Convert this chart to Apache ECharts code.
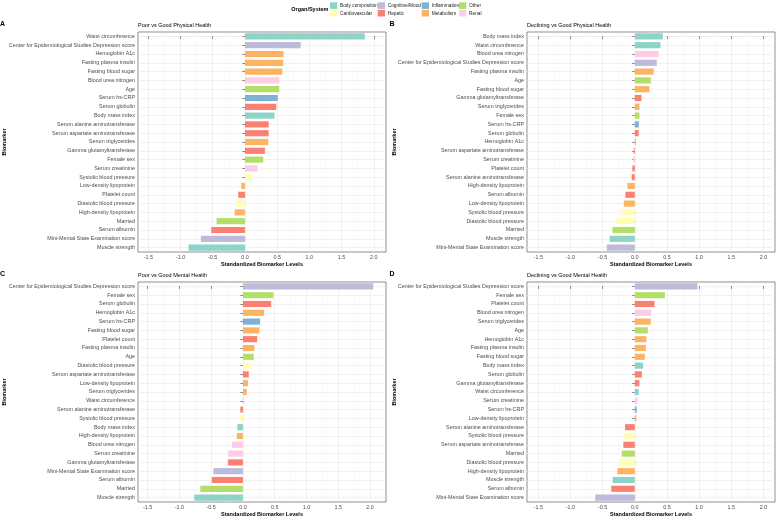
<!DOCTYPE html>
<html><head><meta charset="utf-8">
<script src="https://cdn.jsdelivr.net/npm/echarts@6/dist/echarts.min.js"></script>
<style>html,body{margin:0;padding:0;background:#fff}#c{width:778px;height:520px}</style>
</head><body><div id="c"></div>
<script>
// ---------- data ----------
const systems = ['Body composition','Cardiovascular','Cognitive/Mood','Hepatic','Inflammation','Metabolism','Other','Renal'];
const systemColors = ['#8DD3C7','#FFFFB3','#BEBADA','#FB8072','#80B1D3','#FDB462','#B3DE69','#FCCDE5'];
const biomarkerSystem = {
  'Waist circumference':'Body composition','Body mass index':'Body composition','Muscle strength':'Body composition',
  'Systolic blood pressure':'Cardiovascular','Diastolic blood pressure':'Cardiovascular',
  'Center for Epidemiological Studies Depression score':'Cognitive/Mood','Mini-Mental State Examination score':'Cognitive/Mood',
  'Serum globulin':'Hepatic','Serum alanine aminotransferase':'Hepatic','Serum aspartate aminotransferase':'Hepatic',
  'Gamma glutamyltransferase':'Hepatic','Serum albumin':'Hepatic','Platelet count':'Hepatic',
  'Serum hs-CRP':'Inflammation',
  'Hemoglobin A1c':'Metabolism','Fasting plasma insulin':'Metabolism','Fasting blood sugar':'Metabolism',
  'Serum triglycerides':'Metabolism','Low-density lipoprotein':'Metabolism','High-density lipoprotein':'Metabolism',
  'Age':'Other','Female sex':'Other','Married':'Other',
  'Blood urea nitrogen':'Renal','Serum creatinine':'Renal'
};
const xTicks = [-1.5,-1.0,-0.5,0.0,0.5,1.0,1.5,2.0];
const xMinorTicks = [-1.25,-0.75,-0.25,0.25,0.75,1.25,1.75];

const panelTitles = ['Poor vs Good Physical Health','Declining vs Good Physical Health','Poor vs Good Mental Health','Declining vs Good Mental Health'];
const panelLetters = ['A','B','C','D'];

const namesA = ['Waist circumference','Center for Epidemiological Studies Depression score','Hemoglobin A1c','Fasting plasma insulin','Fasting blood sugar','Blood urea nitrogen','Age','Serum hs-CRP','Serum globulin','Body mass index','Serum alanine aminotransferase','Serum aspartate aminotransferase','Serum triglycerides','Gamma glutamyltransferase','Female sex','Serum creatinine','Systolic blood pressure','Low-density lipoprotein','Platelet count','Diastolic blood pressure','High-density lipoprotein','Married','Serum albumin','Mini-Mental State Examination score','Muscle strength'];
const valuesA = [1.86,0.865,0.60,0.595,0.58,0.535,0.533,0.51,0.487,0.46,0.369,0.368,0.363,0.31,0.285,0.197,0.114,-0.057,-0.104,-0.145,-0.16,-0.44,-0.523,-0.684,-0.876];

const namesB = ['Body mass index','Waist circumference','Blood urea nitrogen','Center for Epidemiological Studies Depression score','Fasting plasma insulin','Age','Fasting blood sugar','Gamma glutamyltransferase','Serum triglycerides','Female sex','Serum hs-CRP','Serum globulin','Hemoglobin A1c','Serum aspartate aminotransferase','Serum creatinine','Platelet count','Serum alanine aminotransferase','High-density lipoprotein','Serum albumin','Low-density lipoprotein','Systolic blood pressure','Diastolic blood pressure','Married','Muscle strength','Mini-Mental State Examination score'];
const valuesB = [0.435,0.40,0.373,0.342,0.295,0.249,0.228,0.104,0.074,0.072,0.063,0.061,0.02,-0.015,-0.026,-0.036,-0.047,-0.114,-0.145,-0.171,-0.212,-0.29,-0.347,-0.39,-0.435];

const namesC = ['Center for Epidemiological Studies Depression score','Female sex','Serum globulin','Hemoglobin A1c','Serum hs-CRP','Fasting blood sugar','Platelet count','Fasting plasma insulin','Age','Diastolic blood pressure','Serum aspartate aminotransferase','Low-density lipoprotein','Serum triglycerides','Waist circumference','Serum alanine aminotransferase','Systolic blood pressure','Body mass index','High-density lipoprotein','Blood urea nitrogen','Serum creatinine','Gamma glutamyltransferase','Mini-Mental State Examination score','Serum albumin','Married','Muscle strength'];
const valuesC = [2.05,0.48,0.445,0.334,0.27,0.26,0.224,0.18,0.17,0.13,0.092,0.08,0.06,0.01,-0.04,-0.045,-0.087,-0.097,-0.17,-0.23,-0.236,-0.466,-0.49,-0.67,-0.766];

const namesD = ['Center for Epidemiological Studies Depression score','Female sex','Platelet count','Blood urea nitrogen','Serum triglycerides','Age','Hemoglobin A1c','Fasting plasma insulin','Fasting blood sugar','Body mass index','Serum globulin','Gamma glutamyltransferase','Waist circumference','Serum creatinine','Serum hs-CRP','Low-density lipoprotein','Serum alanine aminotransferase','Systolic blood pressure','Serum aspartate aminotransferase','Married','Diastolic blood pressure','High-density lipoprotein','Muscle strength','Serum albumin','Mini-Mental State Examination score'];
const valuesD = [0.974,0.469,0.307,0.252,0.248,0.203,0.182,0.172,0.156,0.13,0.11,0.073,0.062,0.042,0.031,0.026,-0.151,-0.161,-0.177,-0.203,-0.24,-0.27,-0.344,-0.365,-0.615];

// ---------- layout ----------
const FONT = '"Liberation Sans", Arial, Helvetica, sans-serif';
const panels = [
  {names:namesA, values:valuesA, left:138, top:32, min:-1.66, max:2.19},
  {names:namesB, values:valuesB, left:527, top:32, min:-1.675, max:2.18},
  {names:namesC, values:valuesC, left:138, top:282, min:-1.65, max:2.25},
  {names:namesD, values:valuesD, left:527, top:282, min:-1.675, max:2.18}
];
const PW = 248, PH = 220;

const grid = [], xAxis = [], yAxis = [], series = [], graphic = [];
panels.forEach((p, pi) => {
  grid.push({left:p.left, top:p.top, width:PW, height:PH, show:true, borderColor:'#444', borderWidth:0.6,
             backgroundColor:'transparent', containLabel:false, outerBoundsMode:'none'});
  xAxis.push({type:'value', gridIndex:pi, min:p.min, max:p.max, position:'bottom',
    axisLine:{show:false},
    axisTick:{show:true, length:2.5, customValues:xTicks, lineStyle:{color:'#333', width:0.6}},
    axisLabel:{show:true, customValues:xTicks, fontSize:5.4, color:'#4d4d4d', margin:3, fontFamily:FONT,
               formatter:v => Number(v).toFixed(1)},
    splitLine:{show:true, lineStyle:{color:'#e8e8e8', width:0.6}}
  });
  xAxis.push({type:'value', gridIndex:pi, min:p.min, max:p.max, position:'top',
    axisLine:{show:false}, axisLabel:{show:false},
    axisTick:{show:false, customValues:xMinorTicks},
    splitLine:{show:true, lineStyle:{color:'#f3f3f3', width:0.5}}
  });
  yAxis.push({type:'category', gridIndex:pi, data:p.names, inverse:true, position:'left',
    axisLine:{show:false},
    axisTick:{show:true, alignWithLabel:true, length:2.5, lineStyle:{color:'#333', width:0.6}},
    axisLabel:{interval:0, fontSize:5.4, color:'#4d4d4d', margin:3, fontFamily:FONT},
    splitLine:{show:false}
  });
  yAxis.push({type:'value', gridIndex:pi, min:-0.5, max:p.names.length-0.5, inverse:true, position:'right',
    axisLine:{show:false}, axisLabel:{show:false},
    axisTick:{show:false, customValues:p.names.map((n,i)=>i)},
    splitLine:{show:true, lineStyle:{color:'#e8e8e8', width:0.6}}
  });
  systems.forEach((s, si) => {
    series.push({type:'bar', name:s, xAxisIndex:pi*2, yAxisIndex:pi*2, stack:'p'+pi, barWidth:'70%',
      itemStyle:{color:systemColors[si]}, silent:true,
      data:p.values.map((v,i) => biomarkerSystem[p.names[i]] === s ? v : '-')
    });
  });
  const cx = p.left + PW/2, cy = p.top + PH/2;
  const lx = p.left < 300 ? 2.5 : 392;
  graphic.push({type:'text', x:lx, y:p.top-8, style:{text:panelLetters[pi], fontSize:7, fontWeight:'bold', fontFamily:FONT, fill:'#000', textAlign:'center', textVerticalAlign:'middle'}});
  graphic.push({type:'text', x:p.left, y:p.top-7, style:{text:panelTitles[pi], fontSize:5.5, fontFamily:FONT, fill:'#000', textAlign:'left', textVerticalAlign:'middle'}});
  graphic.push({type:'text', x:cx, y:p.top+PH+12.8, style:{text:'Standardized Biomarker Levels', fontSize:5.5, fontWeight:'bold', fontFamily:FONT, fill:'#000', textAlign:'center', textVerticalAlign:'middle'}});
  graphic.push({type:'text', x:(p.left < 300 ? 4 : 394), y:cy, rotation:Math.PI/2, style:{text:'Biomarker', fontSize:5.5, fontWeight:'bold', fontFamily:FONT, fill:'#000', textAlign:'center', textVerticalAlign:'middle'}});
});

graphic.push({type:'text', x:328.5, y:9.6, style:{text:'Organ/System', fontSize:5.5, fontWeight:'bold', fontFamily:FONT, fill:'#000', textAlign:'right', textVerticalAlign:'middle'}});

const legendCols = [[0,1],[2,3],[4,5],[6,7]];
const legendLefts = [330, 377.7, 421.7, 459];
const legend = legendCols.map((col, ci) => ({
  data: col.map(i => systems[i]), orient:'vertical', left:legendLefts[ci], top:2.3, padding:0,
  itemWidth:7.3, itemHeight:6.6, itemGap:1, icon:'rect', selectedMode:false,
  textStyle:{fontSize:4.8, color:'#222', fontFamily:FONT, padding:[0,0,0,-2.3]}
}));

const chart = echarts.init(document.getElementById('c'), null, {renderer:'canvas'});
chart.setOption({animation:false, backgroundColor:'#fff', grid, xAxis, yAxis, series, legend, graphic});
</script></body></html>
